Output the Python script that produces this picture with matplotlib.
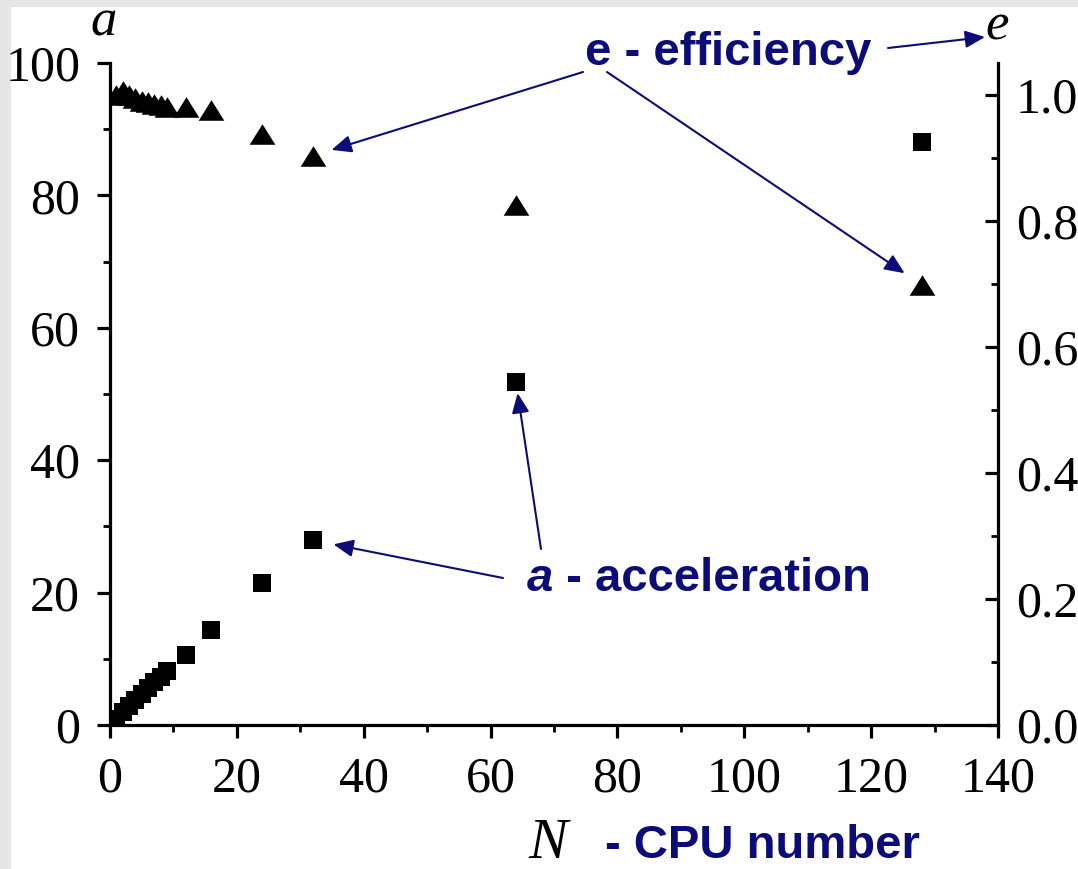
import matplotlib.pyplot as plt
from matplotlib.patches import Rectangle
from matplotlib.ticker import MultipleLocator

# CPU number N
n_cpu = [1, 2, 3, 4, 5, 6, 7, 8, 9, 12, 16, 24, 32, 64, 128]
# acceleration a (left axis, squares)
accel = [0.95, 1.9, 2.85, 3.75, 4.65, 5.55, 6.45, 7.3, 8.1, 10.6, 14.4, 21.4, 27.9, 51.8, 88.0]
# efficiency e (right axis, triangles)
effic = [1.0, 1.005, 1.0, 0.995, 0.99, 0.988, 0.985, 0.983, 0.98, 0.98, 0.975, 0.938, 0.903, 0.825, 0.698]

x_ticks = [0, 20, 40, 60, 80, 100, 120, 140]
a_ticks = [0, 20, 40, 60, 80, 100]
e_ticks = [0.0, 0.2, 0.4, 0.6, 0.8, 1.0]

W, H = 1078, 869
navy = '#0c0c78'
serif = 'Liberation Serif'
sans = 'Liberation Sans'


def fx(x):
    return x / W


def fy(y):
    return 1 - y / H


fig = plt.figure(figsize=(W / 100, H / 100), dpi=100, facecolor='#e6e6e6')
fig.patches.append(Rectangle((fx(11), 0), 1, fy(7), transform=fig.transFigure,
                             facecolor='white', edgecolor='none', zorder=-10))

ax = fig.add_axes([fx(110), fy(725), (998 - 110) / W, (725 - 63) / H])
ax.set_facecolor('none')
ax2 = ax.twinx()

tri = [(0, 0.8), (-1, -0.8), (1, -0.8)]
ax.plot(n_cpu, accel, 's', color='black', markersize=13, markeredgewidth=0)
ax2.plot(n_cpu, effic, marker=tri, linestyle='none', color='black',
         markersize=18.5, markeredgewidth=0)

ax.set_xlim(0, 140)
ax.set_ylim(0, 100)
ax2.set_ylim(0, 1.05)

ax.set_xticks(x_ticks)
ax.set_yticks(a_ticks)
ax2.set_yticks(e_ticks)
ax.set_xticklabels([str(v) for v in x_ticks])
ax.set_yticklabels([str(v) for v in a_ticks])
ax2.set_yticklabels(['%.1f' % v for v in e_ticks])
ax.xaxis.set_minor_locator(MultipleLocator(10))
ax.yaxis.set_minor_locator(MultipleLocator(10))
ax2.yaxis.set_minor_locator(MultipleLocator(0.1))

for a in (ax, ax2):
    a.spines['top'].set_visible(False)
    for s in a.spines.values():
        s.set_linewidth(2.3)
ax.spines['right'].set_visible(False)
ax2.spines['left'].set_visible(False)
ax2.spines['bottom'].set_visible(False)

ax.tick_params(axis='both', which='major', direction='out', length=9.5, width=2.3,
               labelsize=36, pad=13)
ax.tick_params(axis='both', which='minor', direction='out', length=5, width=2)
ax.tick_params(axis='y', pad=12)
ax.tick_params(right=False, top=False, which='both')
ax2.tick_params(axis='y', which='major', direction='in', length=9.5, width=2.3,
                labelsize=36, pad=13)
ax2.tick_params(axis='y', which='minor', direction='in', length=5, width=2)
for lab in ax.get_xticklabels() + ax.get_yticklabels() + ax2.get_yticklabels():
    lab.set_fontfamily(serif)

# axis names
fig.text(fx(104), fy(35), 'a', fontsize=38, family=serif, style='italic',
         ha='center', va='baseline')
fig.text(fx(997), fy(40), 'e', fontsize=38, family=serif, style='italic',
         ha='center', va='baseline')
fig.text(fx(528), fy(858), 'N', fontsize=42, family=serif, style='italic',
         ha='left', va='baseline')
fig.text(fx(605), fy(858), '- CPU number', fontsize=34, family=sans,
         fontweight='bold', color=navy, ha='left', va='baseline')

# annotations
fig.text(fx(585), fy(65), 'e - efficiency', fontsize=34, family=sans,
         fontweight='bold', color=navy, ha='left', va='baseline')
t_a = fig.text(fx(527), fy(591), 'a', fontsize=34, family=sans, fontweight='bold',
               style='italic', color=navy, ha='left', va='baseline')
ax.annotate(' - acceleration', xy=(1, 0), xycoords=t_a, fontsize=34, family=sans,
            fontweight='bold', color=navy, ha='left', va='bottom',
            annotation_clip=False)

arrow = dict(arrowstyle='-|>,head_length=0.8,head_width=0.35', color=navy, lw=1.5,
             mutation_scale=15, shrinkA=0)
i32 = n_cpu.index(32)
i64 = n_cpu.index(64)
i128 = n_cpu.index(128)
ax2.annotate('', xy=(32, effic[i32]), xytext=(fx(583), fy(72)),
             textcoords='figure fraction', arrowprops=dict(arrow, shrinkB=14))
ax2.annotate('', xy=(128, effic[i128]), xytext=(fx(607), fy(72)),
             textcoords='figure fraction', arrowprops=dict(arrow, shrinkB=15))
ax2.annotate('', xy=(fx(985), fy(37)), xycoords='figure fraction',
             xytext=(fx(888), fy(48)), textcoords='figure fraction',
             arrowprops=dict(arrow, shrinkB=0))
ax.annotate('', xy=(32, accel[i32]), xytext=(fx(503), fy(578)),
            textcoords='figure fraction', arrowprops=dict(arrow, shrinkB=15))
ax.annotate('', xy=(64, accel[i64]), xytext=(fx(541), fy(549)),
            textcoords='figure fraction', arrowprops=dict(arrow, shrinkB=8))

fig.savefig('out.png', dpi=100, facecolor=fig.get_facecolor())
